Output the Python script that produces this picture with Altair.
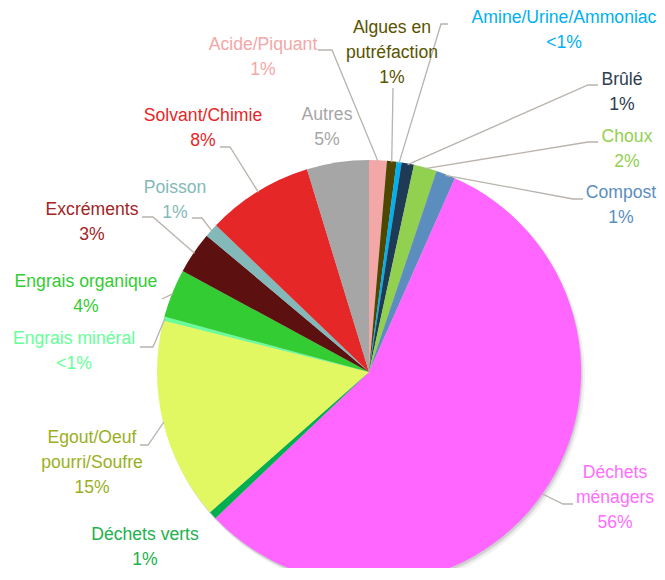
import math
import altair as alt
import pandas as pd

# ---------------- data ----------------
names = ["Acide/Piquant", "Algues en putréfaction", "Amine/Urine/Ammoniac", "Brûlé",
         "Choux", "Compost", "Déchets ménagers", "Déchets verts",
         "Egout/Oeuf pourri/Soufre", "Engrais minéral", "Engrais organique",
         "Excréments", "Poisson", "Solvant/Chimie", "Autres"]
values = [1.35, 0.73, 0.38, 0.94, 1.76, 1.47, 56.2, 0.6, 15.4, 0.3, 3.7, 3.2, 1.05, 8.1, 4.72]
pct_labels = ["1%", "1%", "<1%", "1%", "2%", "1%", "56%", "1%", "15%", "<1%",
              "4%", "3%", "1%", "8%", "5%"]
label_lines = [["Acide/Piquant"], ["Algues en", "putréfaction"], ["Amine/Urine/Ammoniac"],
               ["Brûlé"], ["Choux"], ["Compost"], ["Déchets", "ménagers"], ["Déchets verts"],
               ["Egout/Oeuf", "pourri/Soufre"], ["Engrais minéral"], ["Engrais organique"],
               ["Excréments"], ["Poisson"], ["Solvant/Chimie"], ["Autres"]]

# ---------------- styles ----------------
fill_colors = ["#F4A7A7", "#4D4700", "#00B0F0", "#1F3A55", "#92D050", "#5B8EBF",
               "#FF66FF", "#00B050", "#E2F863", "#66FF99", "#33CC33", "#5C1010",
               "#84B9B9", "#E52727", "#A6A6A6"]
text_colors = ["#F4A7A7", "#5A5300", "#00B0F0", "#2E3D50", "#92D050", "#5B8EBF",
               "#FF6EFF", "#22B14C", "#9BAF1E", "#66FF99", "#33CC33", "#A02525",
               "#84B9B9", "#E52727", "#A6A6A6"]

# ---------------- layout (page pixels) ----------------
OFF = 8
W, H = 649, 560
CX, CY, R = 369, 372, 212
LH = 25
FONT = "Liberation Sans, Arial"
FS = 17.6
label_pos = {  # center x, center y of first line
    "Acide/Piquant": (263, 45), "Algues en putréfaction": (392, 28),
    "Amine/Urine/Ammoniac": (564, 18), "Brûlé": (622, 80), "Choux": (627, 137),
    "Compost": (621, 193), "Déchets ménagers": (615, 473), "Déchets verts": (145, 535),
    "Egout/Oeuf pourri/Soufre": (92, 438), "Engrais minéral": (74, 339),
    "Engrais organique": (86, 282), "Excréments": (92, 210), "Poisson": (175, 188),
    "Solvant/Chimie": (203, 116), "Autres": (327, 115),
}
leader_elbows = {
    "Acide/Piquant": [(318, 50), (332, 50)],
    "Algues en putréfaction": [(393, 88)],
    "Amine/Urine/Ammoniac": [(448, 24), (441, 24)],
    "Brûlé": [(598, 85), (588, 85)],
    "Choux": [(598, 142), (588, 142)],
    "Compost": [(583, 199), (573, 199)],
    "Déchets ménagers": [(573, 504), (563, 504)],
    "Egout/Oeuf pourri/Soufre": [(140, 445), (148, 445)],
    "Engrais minéral": [(140, 347), (153, 347)],
    "Engrais organique": [(162, 299)],
    "Excréments": [(142, 217), (153, 217)],
    "Poisson": [(192, 218), (202, 218)],
    "Solvant/Chimie": [(220, 147), (230, 147)],
}

# ---------------- tables ----------------
pie_df = pd.DataFrame({"name": names, "value": values, "idx": list(range(len(names))),
                       "fc": fill_colors})

total = sum(values)
mid_angle = {}
cum = 0.0
for n, v in zip(names, values):
    mid_angle[n] = 2 * math.pi * (cum + v / 2) / total
    cum += v

text_rows = []
for n, lines, p, tc in zip(names, label_lines, pct_labels, text_colors):
    x0, y0 = label_pos[n]
    for i, t in enumerate(lines + [p]):
        text_rows.append({"t": t, "x": x0, "y": y0 + i * LH, "tc": tc})
text_df = pd.DataFrame(text_rows)

line_rows = []
for n, pts in leader_elbows.items():
    a = mid_angle[n]
    edge = (CX + (R - 1) * math.sin(a), CY - (R - 1) * math.cos(a))
    for s, (x, y) in enumerate(pts + [edge]):
        line_rows.append({"name": n, "seq": s, "x": x, "y": y})
line_df = pd.DataFrame(line_rows)

xs = alt.Scale(domain=[OFF, OFF + W], nice=False, zero=False)
ys = alt.Scale(domain=[OFF + H, OFF], nice=False, zero=False)

def shadow(dx, dy, op, rr):
    return alt.Chart(pie_df).mark_arc(radius=rr, color="#000000", opacity=op).encode(
        theta=alt.Theta("value:Q", stack=True),
        order=alt.Order("idx:Q"),
        x=alt.value(CX - OFF + dx), y=alt.value(CY - OFF + dy),
    )

pie = alt.Chart(pie_df).mark_arc(radius=R, strokeWidth=0).encode(
    theta=alt.Theta("value:Q", stack=True),
    order=alt.Order("idx:Q"),
    color=alt.Color("fc:N", scale=None),
    x=alt.value(CX - OFF), y=alt.value(CY - OFF),
)

leaders = alt.Chart(line_df).mark_line(color="#B8B3AC", strokeWidth=1.3).encode(
    x=alt.X("x:Q", scale=xs, axis=None),
    y=alt.Y("y:Q", scale=ys, axis=None),
    detail="name:N",
    order="seq:Q",
)

texts = alt.Chart(text_df).mark_text(font=FONT, fontSize=FS, align="center",
                                     baseline="middle").encode(
    x=alt.X("x:Q", scale=xs, axis=None),
    y=alt.Y("y:Q", scale=ys, axis=None),
    text="t:N",
    color=alt.Color("tc:N", scale=None),
)

chart = alt.layer(
    shadow(3, 4, 0.05, R + 1), shadow(2, 3, 0.07, R), shadow(1, 2, 0.08, R),
    pie, leaders, texts,
).properties(
    width=W, height=H, autosize=alt.AutoSizeParams(type="none"), padding=0,
).resolve_scale(color="independent").configure_view(stroke=None)

chart.save("out.html", embed_options={"renderer": "svg", "actions": False})
